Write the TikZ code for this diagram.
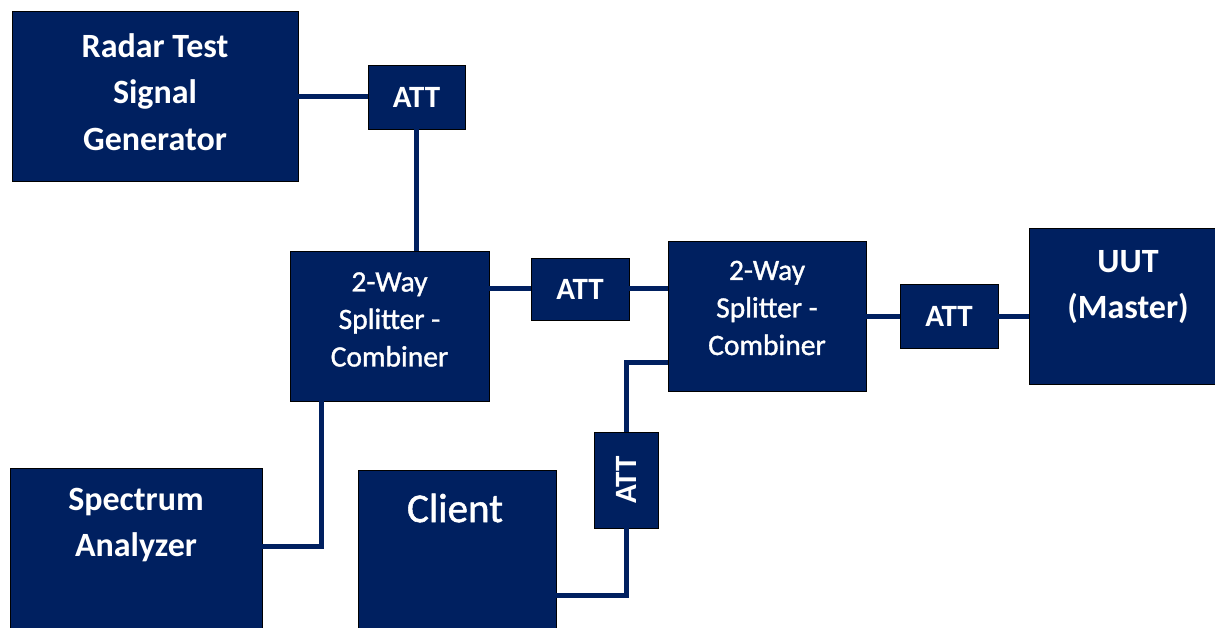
\documentclass[tikz,border=0pt]{standalone}
\usepackage{fontspec}
\setmainfont{Carlito}
\newfontfamily\semib[FakeBold=1.2]{Carlito}
\definecolor{navy}{RGB}{0,32,96}
\begin{document}
\begin{tikzpicture}[x=1pt,y=-1pt,
  box/.style={draw=black,line width=0.8pt,fill=navy,text=white,inner sep=0pt,align=center},
  bigtxt/.style={text=white,align=center,font=\fontsize{34}{46.5}\selectfont\bfseries},
  spltxt/.style={text=white,align=center,font=\semib\fontsize{29.5}{37.5}\selectfont},
  atttxt/.style={font=\fontsize{31}{32}\selectfont\bfseries},
  wire/.style={draw=navy,line width=5pt}]
\useasboundingbox (0,0) rectangle (1215,628);
\clip (0,0) rectangle (1215,628);
% boxes
\node[box,minimum width=286pt,minimum height=170pt] (radar) at (155,96) {};
\node[bigtxt] (radartxt) at (155,92) {Radar Test\\Signal\\Generator};
\node[box,atttxt,minimum width=97pt,minimum height=64pt] (att1) at (416.5,97) {ATT};
\node[box,minimum width=199pt,minimum height=150pt] (spl1) at (389.5,326) {};
\node[spltxt] (spl1txt) at (389.5,319.5) {2-Way\\Splitter -\\Combiner};
\node[box,atttxt,minimum width=98pt,minimum height=62pt] (att2) at (580,289) {ATT};
\node[box,minimum width=198pt,minimum height=150pt] (spl2) at (767,316) {};
\node[spltxt] (spl2txt) at (767,308) {2-Way\\Splitter -\\Combiner};
\node[box,atttxt,minimum width=98pt,minimum height=64pt] (att3) at (949,316) {ATT};
\node[box,minimum width=187pt,minimum height=156pt] (uut) at (1122.5,306) {};
\node[bigtxt] (uuttxt) at (1128,287) {UUT\\(Master)};
\node[box,minimum width=252pt,minimum height=172pt] (spec) at (136,554) {};
\node[bigtxt] (spectxt) at (136,525) {Spectrum\\Analyzer};
\node[box,minimum width=198pt,minimum height=170pt] (client) at (457,555) {};
\node[text=white,font=\semib\fontsize{41}{44}\selectfont] (clienttxt) at (455,508) {Client};
\node[box,minimum width=64pt,minimum height=96pt] (att4) at (626,480) {};
\node[text=white,atttxt,rotate=90] (att4txt) at (att4.center) {ATT};
% wires
\draw[wire] (att1.west) -- (att1.west -| radar.east);
\draw[wire] (att1.south) -- (att1.south |- spl1.north);
\draw[wire] (att2.west) -- (att2.west -| spl1.east);
\draw[wire] (att2.east) -- (att2.east -| spl2.west);
\draw[wire] (att3.west) -- (att3.west -| spl2.east);
\draw[wire] (att3.east) -- (att3.east -| uut.west);
\draw[wire] ([xshift=32pt]spl1.south west) |- ([yshift=8pt]spec.east);
\draw[wire] ([yshift=-46pt]spl2.west) -| (att4.north);
\draw[wire] (att4.south) |- ([yshift=-40pt]client.east);
\end{tikzpicture}
\end{document}
